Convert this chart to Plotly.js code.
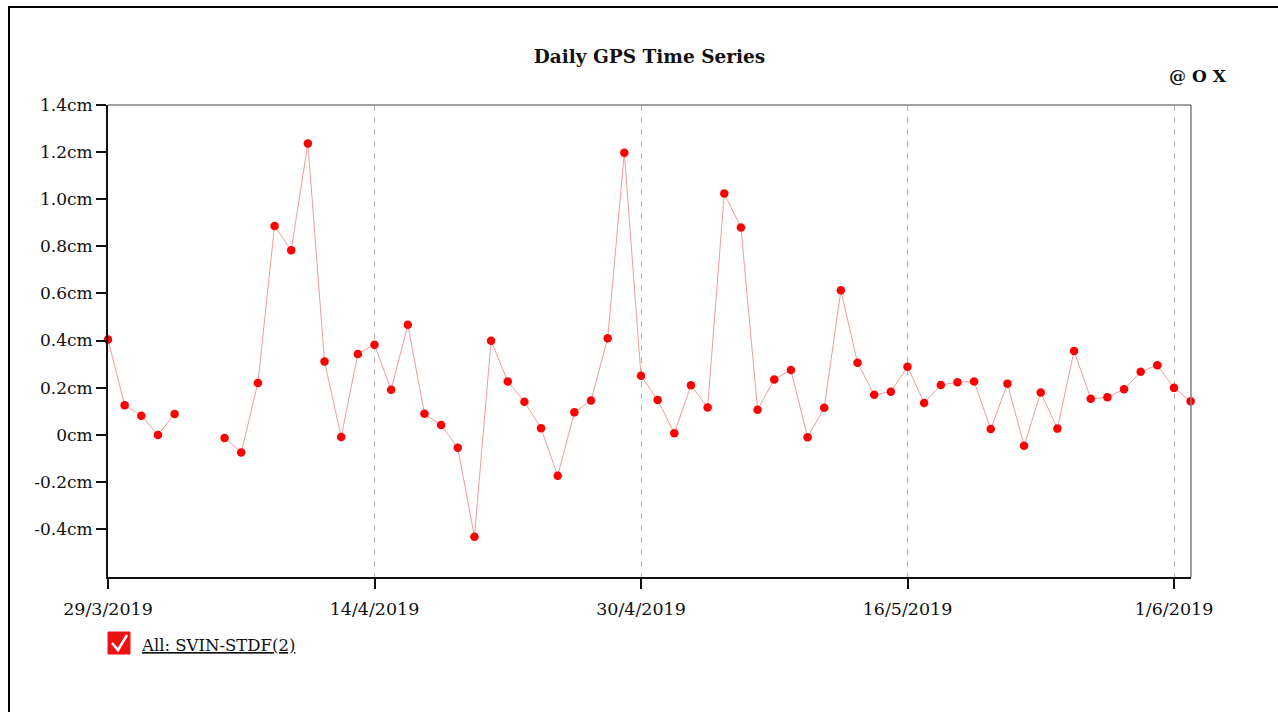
<!DOCTYPE html>
<html>
<head>
<meta charset="utf-8">
<script src="https://cdn.plot.ly/plotly-3.0.1.min.js"></script>
<style>
  html, body { margin: 0; padding: 0; background: #fff; overflow: hidden; }
  #frame { position: absolute; left: 8px; top: 6px; width: 1400px; height: 800px; border: 2px solid #000; pointer-events: none; z-index: 5; }
  #chart { position: absolute; left: 0; top: 0; width: 1278px; height: 712px; }
</style>
</head>
<body>
<div id="frame"></div>
<div id="chart"></div>
<script>
// ---- data ----
const dates = [
  '2019-03-29','2019-03-30','2019-03-31',
  '2019-04-01','2019-04-02','2019-04-03','2019-04-04','2019-04-05','2019-04-06','2019-04-07','2019-04-08','2019-04-09','2019-04-10',
  '2019-04-11','2019-04-12','2019-04-13','2019-04-14','2019-04-15','2019-04-16','2019-04-17','2019-04-18','2019-04-19','2019-04-20',
  '2019-04-21','2019-04-22','2019-04-23','2019-04-24','2019-04-25','2019-04-26','2019-04-27','2019-04-28','2019-04-29','2019-04-30',
  '2019-05-01','2019-05-02','2019-05-03','2019-05-04','2019-05-05','2019-05-06','2019-05-07','2019-05-08','2019-05-09','2019-05-10',
  '2019-05-11','2019-05-12','2019-05-13','2019-05-14','2019-05-15','2019-05-16','2019-05-17','2019-05-18','2019-05-19','2019-05-20',
  '2019-05-21','2019-05-22','2019-05-23','2019-05-24','2019-05-25','2019-05-26','2019-05-27','2019-05-28','2019-05-29','2019-05-30',
  '2019-05-31','2019-06-01','2019-06-02'
];
const values = [
  0.404, 0.125, 0.081,
  -0.001, 0.088, null, null, -0.014, -0.075, 0.22, 0.886, 0.783, 1.237,
  0.311, -0.01, 0.343, 0.382, 0.191, 0.467, 0.089, 0.041, -0.055, -0.433,
  0.399, 0.226, 0.14, 0.028, -0.174, 0.095, 0.145, 0.41, 1.197, 0.25,
  0.148, 0.006, 0.21, 0.116, 1.024, 0.88, 0.106, 0.235, 0.275, -0.011,
  0.115, 0.613, 0.306, 0.17, 0.183, 0.289, 0.135, 0.211, 0.223, 0.226,
  0.024, 0.217, -0.047, 0.179, 0.026, 0.356, 0.153, 0.159, 0.193, 0.267,
  0.295, 0.199, 0.142
];
const xTickVals = ['2019-03-29','2019-04-14','2019-04-30','2019-05-16','2019-06-01'];
const xTickText = ['29/3/2019','14/4/2019','30/4/2019','16/5/2019','1/6/2019'];
const yTickVals = [-0.4, -0.2, 0, 0.2, 0.4, 0.6, 0.8, 1.0, 1.2, 1.4];
const yTickText = ['-0.4cm','-0.2cm','0cm','0.2cm','0.4cm','0.6cm','0.8cm','1.0cm','1.2cm','1.4cm'];
const seriesName = 'All: SVIN-STDF(2)';

// ---- layout helpers ----
const W = 1278, H = 712;
const M = { l: 108, r: 87, t: 105, b: 135 };
const pw = W - M.l - M.r, ph = H - M.t - M.b;
const px = x => (x - M.l) / pw;          // pixel -> paper x
const py = y => (H - M.b - y) / ph;      // pixel -> paper y

const FONT = 'DejaVu Serif, Georgia, serif';

const trace = {
  x: dates, y: values, type: 'scatter', mode: 'lines+markers',
  name: seriesName, connectgaps: false, cliponaxis: false,
  line: { color: '#f29c9c', width: 1 },
  marker: { color: '#ff0000', size: 8.5 },
  hovertemplate: '%{x|%d/%m/%Y}: %{y:.3f}cm<extra></extra>'
};

const layout = {
  width: W, height: H,
  margin: M,
  paper_bgcolor: 'rgba(0,0,0,0)', plot_bgcolor: 'rgba(0,0,0,0)',
  showlegend: false,
  font: { family: FONT, size: 17, color: '#111' },
  title: { text: '<b>Daily GPS Time Series</b>', x: 0.5, xref: 'paper', xanchor: 'center',
           y: 1 - 57 / H, yref: 'container', yanchor: 'middle',
           font: { family: FONT, size: 18.5, color: '#111' } },
  xaxis: {
    type: 'date', range: ['2019-03-29', '2019-06-02 00:30'],
    tickvals: xTickVals, ticktext: xTickText,
    ticks: 'outside', ticklen: 10, tickwidth: 1.5, tickcolor: '#111',
    showline: true, linecolor: '#111', linewidth: 2,
    showgrid: true, gridcolor: '#b4b4b4', gridwidth: 1, griddash: '6px,6px',
    zeroline: false, ticklabelstandoff: 5,
    tickfont: { family: FONT, size: 17.5, color: '#111' }
  },
  yaxis: {
    range: [-0.604, 1.4],
    tickvals: yTickVals, ticktext: yTickText,
    ticks: 'outside', ticklen: 10, tickwidth: 1.5, tickcolor: '#111',
    showline: true, linecolor: '#111', linewidth: 2,
    showgrid: false, zeroline: false,
    tickfont: { family: FONT, size: 17, color: '#111' }
  },
  shapes: [
    { type: 'line', xref: 'paper', yref: 'paper', x0: 0, x1: 1, y0: 1, y1: 1, line: { color: '#808080', width: 1.5 } },
    { type: 'line', xref: 'paper', yref: 'paper', x0: 1, x1: 1, y0: 0, y1: 1, line: { color: '#808080', width: 1.5 } },
    { type: 'rect', xref: 'paper', yref: 'paper', x0: px(108), x1: px(130), y0: py(654), y1: py(632),
      fillcolor: '#ee1111', line: { color: '#ee1111', width: 1 }, layer: 'above' },
    { type: 'path', xref: 'paper', yref: 'paper',
      path: `M ${px(112)} ${py(643)} L ${px(118)} ${py(650)} L ${px(127)} ${py(635)}`,
      line: { color: '#ffffff', width: 2.5 }, layer: 'above' }
  ],
  annotations: [
    { text: '<b>@ O X</b>', xref: 'paper', yref: 'paper', x: px(1229), y: py(76),
      xanchor: 'right', yanchor: 'middle', showarrow: false,
      font: { family: FONT, size: 17, color: '#111' } },
    { text: '<u>' + seriesName + '</u>', xref: 'paper', yref: 'paper', x: px(139), y: py(645),
      xanchor: 'left', yanchor: 'middle', showarrow: false,
      font: { family: FONT, size: 16.5, color: '#111' } }
  ]
};

Plotly.newPlot('chart', [trace], layout, { displayModeBar: false, responsive: false });
</script>
</body>
</html>
